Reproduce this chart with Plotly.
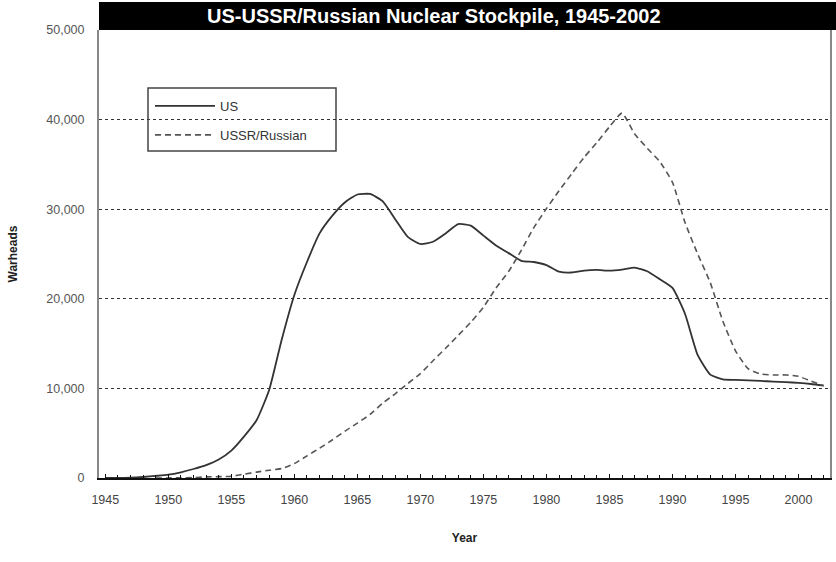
import plotly.graph_objects as go

years = list(range(1945, 2003))

us_warheads = [
    6, 11, 32, 110, 235, 369, 640, 1005, 1436, 2063,
    3057, 4618, 6444, 9822, 15468, 20434, 24111, 27297, 29249, 30751,
    31642, 31700, 30893, 28884, 26910, 26119, 26365, 27296, 28335, 28170,
    27052, 25956, 25099, 24243, 24107, 23764, 23031, 22937, 23154, 23228,
    23135, 23254, 23490, 23077, 22174, 21211, 18306, 13731, 11536, 11012,
    10953, 10886, 10829, 10763, 10698, 10615, 10491, 10300,
]

ussr_warheads = [
    None, None, None, None, 1, 5, 25, 50, 120, 150,
    200, 426, 660, 869, 1060, 1605, 2471, 3322, 4238, 5221,
    6129, 7089, 8339, 9399, 10538, 11643, 13092, 14478, 15915, 17385,
    19055, 21205, 23044, 25393, 27935, 30062, 32049, 33952, 35804, 37431,
    39197, 40723, 38400, 36800, 35300, 33000, 28500, 25000, 21800, 17500,
    14200, 12200, 11600, 11500, 11500, 11350, 10800, 10300,
]

y_ticks = [0, 10000, 20000, 30000, 40000, 50000]
x_label_years = [1945, 1950, 1955, 1960, 1965, 1970, 1975, 1980, 1985, 1990, 1995, 2000]

FONT = "Liberation Sans, Arial, sans-serif"

# body margin is removed by post_script, so figure px == screen px
L, T, PW, PH = 99, 30, 731, 448

fig = go.Figure()
fig.add_trace(go.Scatter(
    x=years, y=us_warheads, name="US", mode="lines",
    line=dict(color="#333333", width=1.8, shape="spline", smoothing=0.5),
    legendgroup="a",
))
fig.add_trace(go.Scatter(
    x=years, y=ussr_warheads, name="USSR/Russian", mode="lines",
    line=dict(color="#555555", width=1.6, dash="6px,4px", shape="spline", smoothing=0.5),
    legendgroup="b",
))

# legend box (screen px 148..336, 88..151)
bx0, bx1, by0, by1 = 148 - L, 336 - L, 88 - T, 151 - T

fig.update_layout(
    width=836, height=562,
    margin=dict(l=L, r=836 - L - PW, t=T, b=562 - T - PH),
    paper_bgcolor="white", plot_bgcolor="white",
    font=dict(family=FONT, size=12, color="#333333"),
    showlegend=True,
    legend=dict(
        x=(bx0 + 2) / PW, y=1 - (by0 + 3) / PH, xanchor="left", yanchor="top",
        bgcolor="rgba(0,0,0,0)", borderwidth=0,
        font=dict(family=FONT, size=13, color="#333333"),
        traceorder="grouped", tracegroupgap=9,
        itemwidth=60,
    ),
    xaxis=dict(
        range=[1944.5, 2002.5],
        tickvals=x_label_years,
        ticks="inside", ticklen=4, tickcolor="#111111", tickwidth=1,
        minor=dict(dtick=1, tick0=1945, ticks="inside", ticklen=3, tickcolor="#111111"),
        showgrid=False, zeroline=False,
        showline=True, linecolor="#111111", linewidth=1.5,
        tickfont=dict(family=FONT, size=12.5, color="#444444"),
        ticklabelstandoff=9,
        automargin=False,
        title=dict(text="<b>Year</b>", font=dict(family=FONT, size=12, color="#222222"), standoff=28),
    ),
    yaxis=dict(
        range=[0, 50000],
        tickvals=y_ticks,
        tickformat=",d",
        ticks="",
        showgrid=True, gridcolor="#333333", gridwidth=1, griddash="3px,3px",
        zeroline=False,
        showline=True, linecolor="#888888", linewidth=2, mirror=True,
        tickfont=dict(family=FONT, size=12.5, color="#555555"),
        ticklabelstandoff=10,
        automargin=False,
        title=dict(text="<b>Warheads</b>", font=dict(family=FONT, size=12, color="#222222"), standoff=26),
    ),
    shapes=[
        dict(type="rect", xref="paper", yref="paper",
             x0=bx0 / PW, x1=bx1 / PW, y0=1 - by1 / PH, y1=1 - by0 / PH,
             fillcolor="white", line=dict(color="#444444", width=1.5), layer="between"),
        dict(type="rect", xref="paper", yref="paper",
             x0=0, x1=(836 - L) / PW, y0=1, y1=1 + (T - 2) / PH,
             fillcolor="black", line=dict(width=0), layer="above"),
    ],
    annotations=[
        dict(text="<b>US-USSR/Russian Nuclear Stockpile, 1945-2002</b>",
             xref="paper", yref="paper", x=(434 - L) / PW, y=1 + 14 / PH,
             xanchor="center", yanchor="middle", showarrow=False,
             font=dict(family=FONT, size=20, color="white")),
    ],
)

fig.write_html("out.html", config={"displayModeBar": False},
               post_script="document.body.style.margin='0px';")
